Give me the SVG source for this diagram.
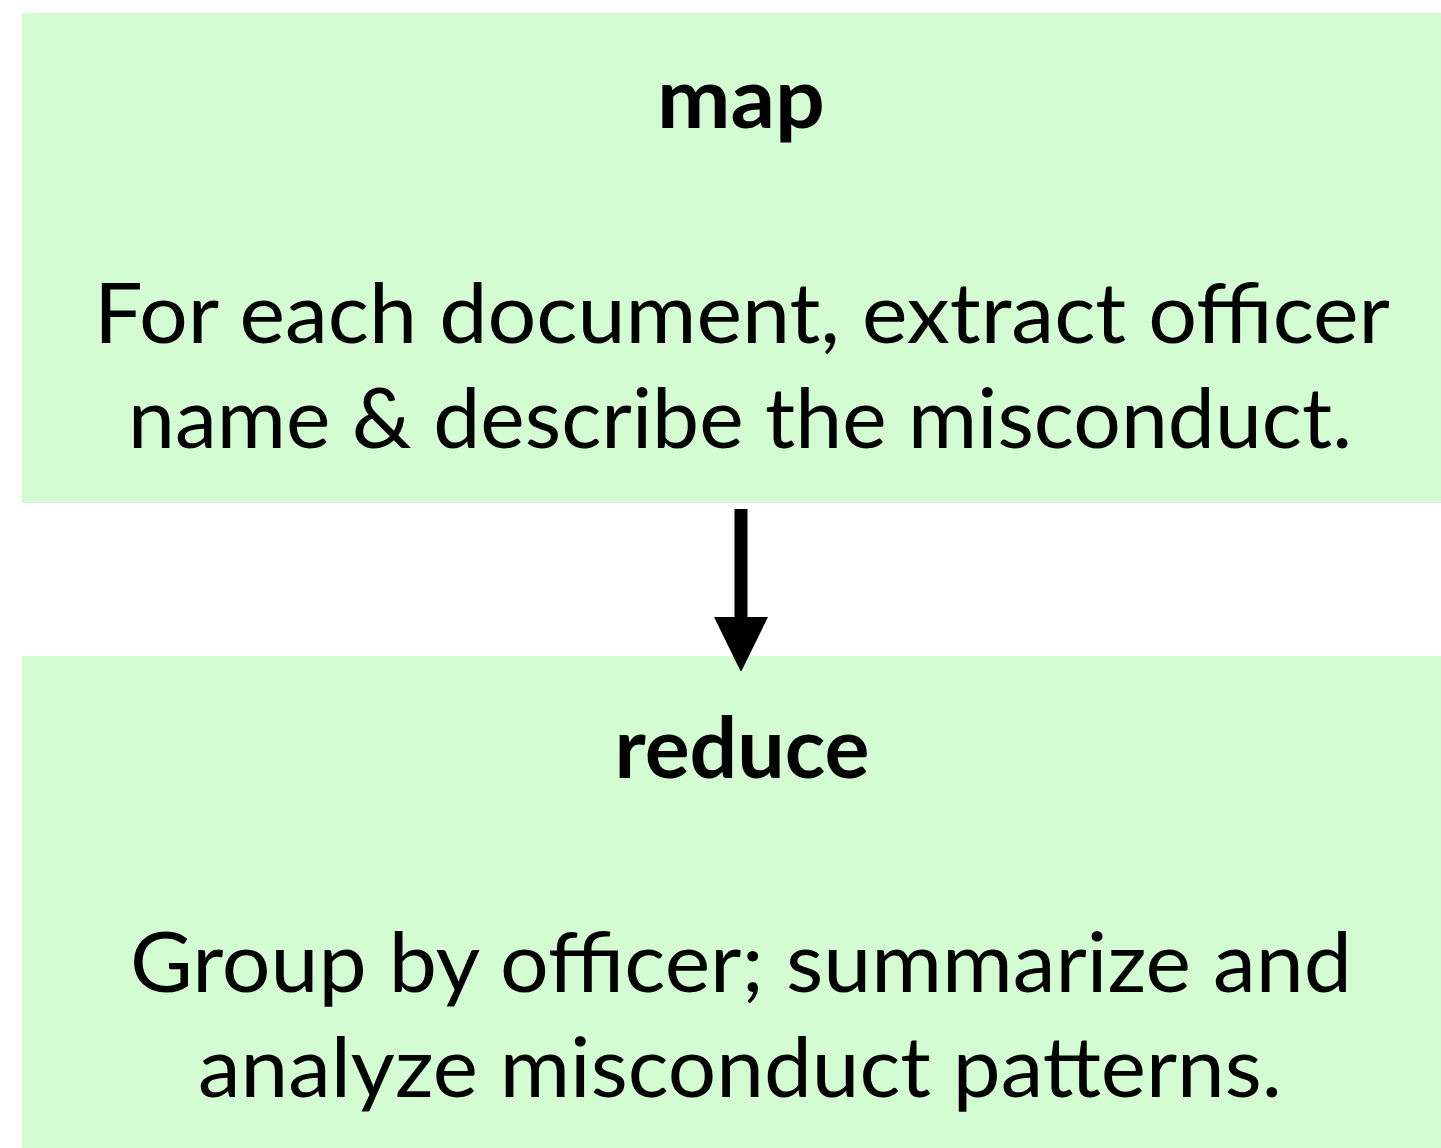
<svg xmlns="http://www.w3.org/2000/svg" width="1441" height="1148" viewBox="0 0 1441 1148">
  <style>
    .box { fill: #d3fcd3; }
    .title { font-family: Lato, "Open Sans", sans-serif; font-weight: 700; font-size: 84px; fill: #000; text-anchor: middle; }
    .body { font-family: Lato, "Open Sans", sans-serif; font-weight: 400; font-size: 84px; fill: #000; text-anchor: middle; }
    .edge { stroke: #000; stroke-width: 13; fill: none; }
  </style>
  <defs>
    <marker id="arrowhead" markerUnits="userSpaceOnUse" markerWidth="54" markerHeight="56" refX="0" refY="27" orient="auto">
      <path d="M0,0 L55,27 L0,54 Z" fill="#000"/>
    </marker>
  </defs>
  <rect width="1441" height="1148" fill="#fff"/>

  <g id="map">
    <rect class="box" x="22" y="13" width="1419" height="490"/>
    <text class="title" x="741" y="128" textLength="168" lengthAdjust="spacingAndGlyphs">map</text>
    <text class="body" x="742" y="343" textLength="1296" lengthAdjust="spacingAndGlyphs">For each document, extract officer</text>
    <text class="body" x="740" y="448" textLength="1224" lengthAdjust="spacingAndGlyphs">name &amp; describe the misconduct.</text>
  </g>

  <g id="reduce">
    <rect class="box" x="22" y="656" width="1419" height="492"/>
    <text class="title" x="742" y="778" textLength="255" lengthAdjust="spacingAndGlyphs">reduce</text>
    <text class="body" x="741" y="992" textLength="1222" lengthAdjust="spacingAndGlyphs">Group by officer; summarize and</text>
    <text class="body" x="740" y="1097" textLength="1084" lengthAdjust="spacingAndGlyphs">analyze misconduct patterns.</text>
  </g>

  <g id="connectors">
    <line class="edge" x1="741" y1="509" x2="741" y2="617" marker-end="url(#arrowhead)"/>
  </g>
</svg>
